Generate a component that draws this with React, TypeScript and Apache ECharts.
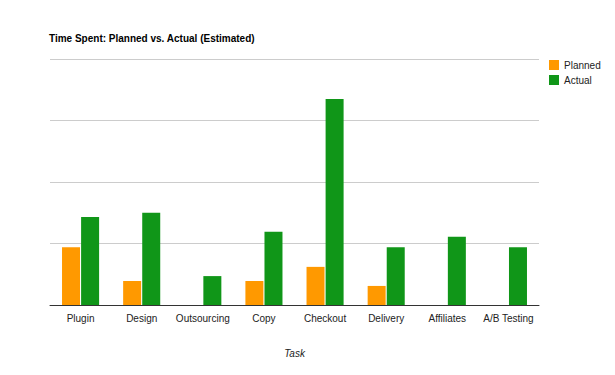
import React, { useEffect, useRef } from "react";
import * as echarts from "echarts";

const categories = ["Plugin", "Design", "Outsourcing", "Copy", "Checkout", "Delivery", "Affiliates", "A/B Testing"];
const planned: (number | null)[] = [0.94, 0.39, null, 0.39, 0.62, 0.31, null, null];
const actual: number[] = [1.43, 1.5, 0.47, 1.19, 3.35, 0.94, 1.11, 0.94];
const titleText = "Time Spent: Planned vs. Actual (Estimated)";
const xAxisName = "Task";

const FONT = "Arial, 'Liberation Sans', sans-serif";

export default function App() {
  const ref = useRef<HTMLDivElement>(null);
  useEffect(() => {
    if (!ref.current) return;
    const chart = echarts.init(ref.current, null, { renderer: "svg" });
    chart.setOption({
      animation: false,
      backgroundColor: "#ffffff",
      title: {
        text: titleText,
        left: 41,
        top: 25,
        padding: 0,
        textStyle: { fontFamily: FONT, fontSize: 10, fontWeight: "bold", color: "#000" },
      },
      legend: {
        orient: "vertical",
        left: 541,
        top: 52,
        padding: 0,
        itemWidth: 10,
        itemHeight: 10,
        itemGap: 5,
        icon: "rect",
        textStyle: { fontFamily: FONT, fontSize: 10, color: "#222" },
        data: ["Planned", "Actual"],
      },
      grid: { left: 42, right: 84, top: 51, bottom: 78, containLabel: false },
      xAxis: {
        type: "category",
        data: categories,
        name: xAxisName,
        nameLocation: "middle",
        nameGap: 43,
        nameTextStyle: { fontFamily: FONT, fontSize: 10, fontStyle: "italic", color: "#222" },
        axisLine: { lineStyle: { color: "#333", width: 1 } },
        axisTick: { show: false },
        axisLabel: { fontFamily: FONT, fontSize: 10, color: "#222", margin: 8, interval: 0 },
      },
      yAxis: {
        type: "value",
        min: 0,
        max: 4,
        interval: 1,
        axisLine: { show: false },
        axisTick: { show: false },
        axisLabel: { show: false },
        splitLine: { lineStyle: { color: "#cccccc", width: 1 } },
      },
      series: [
        {
          name: "Planned",
          type: "bar",
          data: planned,
          itemStyle: { color: "#ff9900" },
          barWidth: 18,
          barGap: "6%",
        },
        {
          name: "Actual",
          type: "bar",
          data: actual,
          itemStyle: { color: "#109618" },
          barWidth: 18,
          barGap: "6%",
        },
      ],
    });
    return () => chart.dispose();
  }, []);
  return <div ref={ref} style={{ width: 615, height: 375 }} />;
}
